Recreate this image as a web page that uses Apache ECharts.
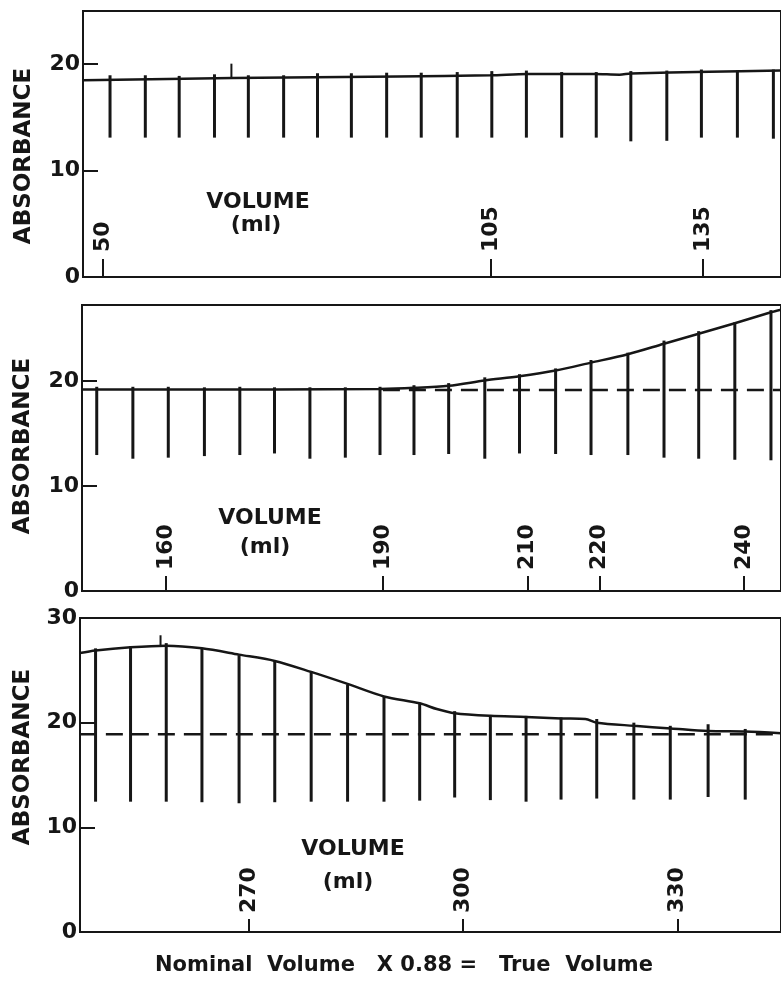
<!DOCTYPE html>
<html>
<head>
<meta charset="utf-8">
<title>Absorbance of eluate vs volume</title>
<script src="https://cdn.jsdelivr.net/npm/echarts@6.0.0/dist/echarts.min.js"></script>
<style>
  html, body { margin: 0; padding: 0; background: #fff; }
  #chart { width: 781px; height: 983px; }
</style>
</head>
<body>
<div id="chart"></div>
<script>
//------------------- Data START -------------------//
// volumes are nominal ml, absorbance in chart units
var yTicks = [0, 10, 20]
var yTicks3 = [0, 10, 20, 30]

// panel 1 (47 - 146 ml)
var xTicks1 = [50, 105, 135]
var frac1Vol = [51.0, 56.0, 60.8, 65.8, 70.6, 75.6, 80.4, 85.2, 90.2, 95.1, 100.2, 105.1, 110.0, 115.0, 119.9, 124.8, 129.9, 134.8, 139.9, 145.0]
var frac1Top = [18.96, 18.96, 18.9, 19.05, 18.96, 18.96, 19.15, 19.15, 19.2, 19.2, 19.26, 19.35, 19.4, 19.26, 19.26, 19.35, 19.4, 19.5, 19.4, 19.5]
var frac1Bot = [13.1, 13.1, 13.1, 13.1, 13.1, 13.1, 13.1, 13.1, 13.1, 13.1, 13.1, 13.1, 13.1, 13.1, 13.1, 12.75, 12.8, 13.1, 13.1, 13.0]
var curve1 = [[47.2, 18.5], [68.3, 18.7], [91.8, 18.85], [104.9, 18.95], [110.1, 19.08], [119.6, 19.08], [123.2, 19.02], [124.8, 19.12], [135.9, 19.3], [146.1, 19.4]]
var marks1 = [[68.2, 20.05, 18.75]]

// panel 2 (148 - 245 ml)
var xTicks2 = [160, 190, 210, 220, 240]
var frac2Vol = [150.4, 155.4, 160.3, 165.3, 170.2, 175.0, 179.9, 184.8, 189.6, 194.3, 199.1, 204.1, 208.9, 213.9, 218.8, 223.9, 228.9, 233.7, 238.7, 243.7]
var frac2Top = [19.45, 19.45, 19.45, 19.4, 19.45, 19.4, 19.4, 19.4, 19.45, 19.6, 19.8, 20.35, 20.65, 21.2, 22.0, 22.7, 23.85, 24.75, 25.6, 26.75]
var frac2Bot = [12.95, 12.6, 12.7, 12.85, 12.95, 13.1, 12.6, 12.7, 12.95, 12.95, 13.05, 12.6, 13.1, 13.05, 12.95, 12.95, 12.7, 12.6, 12.5, 12.45]
var curve2 = [[148.4, 19.2], [175.0, 19.2], [189.6, 19.25], [194.3, 19.35], [199.1, 19.55], [204.1, 20.05], [208.9, 20.45], [213.9, 21.0], [218.8, 21.75], [223.9, 22.55], [228.9, 23.55], [233.7, 24.5], [238.7, 25.5], [243.7, 26.55], [245.1, 26.8]]
var base2 = [[190.0, 19.15], [245.1, 19.15]]

// panel 3 (246 - 345 ml)
var xTicks3 = [270, 300, 330]
var frac3Vol = [248.5, 253.4, 258.4, 263.4, 268.6, 273.6, 278.7, 283.8, 288.9, 293.9, 298.8, 303.8, 308.8, 313.7, 318.7, 323.9, 329.0, 334.3, 339.5]
var frac3Top = [27.1, 27.3, 27.6, 27.15, 26.45, 25.9, 24.9, 23.65, 22.5, 21.9, 21.1, 20.7, 20.65, 20.5, 20.35, 20.0, 19.7, 19.85, 19.4]
var frac3Bot = [12.45, 12.45, 12.45, 12.4, 12.3, 12.4, 12.45, 12.45, 12.45, 12.55, 12.85, 12.6, 12.45, 12.65, 12.75, 12.65, 12.65, 12.9, 12.65]
var curve3 = [[246.3, 26.65], [248.5, 26.9], [253.4, 27.2], [258.4, 27.35], [263.4, 27.1], [268.6, 26.5], [273.6, 25.9], [278.7, 24.85], [283.8, 23.7], [288.9, 22.5], [293.9, 21.85], [296.3, 21.3], [298.8, 20.9], [303.8, 20.65], [308.8, 20.55], [313.7, 20.4], [317.1, 20.35], [318.7, 20.0], [323.9, 19.7], [329.1, 19.45], [334.3, 19.2], [339.5, 19.15], [344.5, 19.0]]
var base3 = [[246.3, 18.9], [344.5, 18.9]]
var marks3 = [[257.6, 28.35, 27.4]]
//------------------- Data END -------------------//

var ink = '#161616'
var fontFamily = '"DejaVu Sans", sans-serif'

// plot boxes, one per panel; right edge pushed off the page like the cropped original
var panels = [
  { grid: { left: 83, top: 11, right: -4, height: 266 }, xMin: 47.17, xMax: 146.08, yMax: 25, xTicks: xTicks1, yTicks: yTicks, tickLen: 18, labelGap: 25,
    vol: frac1Vol, top: frac1Top, bot: frac1Bot, curve: curve1, base: null, marks: marks1 },
  { grid: { left: 82, top: 305, right: -4, height: 286 }, xMin: 148.36, xMax: 245.09, yMax: 27.24, xTicks: xTicks2, yTicks: yTicks, tickLen: 15, labelGap: 21,
    vol: frac2Vol, top: frac2Top, bot: frac2Bot, curve: curve2, base: base2, marks: [] },
  { grid: { left: 80, top: 618, right: -4, height: 314 }, xMin: 246.32, xMax: 344.51, yMax: 30, xTicks: xTicks3, yTicks: yTicks3, tickLen: 13, labelGap: 19,
    vol: frac3Vol, top: frac3Top, bot: frac3Bot, curve: curve3, base: base3, marks: marks3 },
]

function zip3(a, b, c) {
  return a.map(function(v, i) { return [v, b[i], c[i]] })
}

function renderStick(width) {
  return function(params, api) {
    var p1 = api.coord([api.value(0), api.value(1)])
    var p2 = api.coord([api.value(0), api.value(2)])
    return {
      type: 'line',
      shape: { x1: p1[0], y1: p1[1], x2: p2[0], y2: p2[1] },
      style: { stroke: ink, lineWidth: width },
    }
  }
}

function textEl(text, x, y, size, rotated) {
  return {
    type: 'text',
    x: x,
    y: y,
    rotation: rotated ? Math.PI / 2 : 0,
    style: {
      text: text,
      fill: ink,
      font: 'bold ' + size + 'px ' + fontFamily,
      textAlign: 'center',
      textVerticalAlign: 'middle',
      align: 'center',
      verticalAlign: 'middle',
    },
  }
}

var grid = []
var xAxis = []
var yAxis = []
var series = []

panels.forEach(function(p, i) {
  grid.push(Object.assign({ show: true, borderColor: ink, borderWidth: 2, backgroundColor: 'transparent' }, p.grid))

  xAxis.push({
    type: 'value',
    gridIndex: i,
    min: p.xMin,
    max: p.xMax,
    axisLine: { lineStyle: { color: ink, width: 2 } },
    axisTick: { inside: true, length: p.tickLen, customValues: p.xTicks, lineStyle: { color: ink, width: 2 } },
    axisLabel: {
      inside: true,
      rotate: 90,
      margin: p.labelGap,
      customValues: p.xTicks,
      color: ink,
      fontFamily: fontFamily,
      fontWeight: 'bold',
      fontSize: 22,
    },
    splitLine: { show: false },
  })

  yAxis.push({
    type: 'value',
    gridIndex: i,
    min: 0,
    max: p.yMax,
    axisLine: { show: true, lineStyle: { color: ink, width: 2 } },
    axisTick: { inside: true, length: 15, customValues: p.yTicks, lineStyle: { color: ink, width: 2 } },
    axisLabel: {
      margin: 3,
      customValues: p.yTicks,
      color: ink,
      fontFamily: fontFamily,
      fontWeight: 'bold',
      fontSize: 22,
    },
    splitLine: { show: false },
  })

  series.push({
    type: 'custom',
    xAxisIndex: i,
    yAxisIndex: i,
    renderItem: renderStick(3),
    encode: { x: 0, y: [1, 2] },
    data: zip3(p.vol, p.top, p.bot),
    silent: true,
  })

  series.push({
    type: 'line',
    xAxisIndex: i,
    yAxisIndex: i,
    data: p.curve,
    smooth: 0.3,
    showSymbol: false,
    lineStyle: { color: ink, width: 2.5 },
    silent: true,
  })

  if (p.base) {
    series.push({
      type: 'line',
      xAxisIndex: i,
      yAxisIndex: i,
      data: p.base,
      showSymbol: false,
      lineStyle: { color: ink, width: 2.5, type: [17, 9] },
      silent: true,
    })
  }

  if (p.marks.length) {
    series.push({
      type: 'custom',
      xAxisIndex: i,
      yAxisIndex: i,
      renderItem: renderStick(2),
      encode: { x: 0, y: [1, 2] },
      data: p.marks,
      silent: true,
    })
  }
})

var graphic = [
  textEl('ABSORBANCE', 24, 156, 23, true),
  textEl('ABSORBANCE', 23, 446, 23, true),
  textEl('ABSORBANCE', 23, 757, 23, true),
  textEl('VOLUME', 258, 202, 22, false),
  textEl('(ml)', 256, 225, 22, false),
  textEl('VOLUME', 270, 518, 22, false),
  textEl('(ml)', 265, 547, 22, false),
  textEl('VOLUME', 353, 849, 22, false),
  textEl('(ml)', 348, 882, 22, false),
  textEl('Nominal  Volume   X 0.88 =   True  Volume', 404, 966, 21, false),
]

var chart = echarts.init(document.getElementById('chart'), null, { renderer: 'canvas' })
chart.setOption({
  backgroundColor: '#ffffff',
  animation: false,
  grid: grid,
  xAxis: xAxis,
  yAxis: yAxis,
  series: series,
  graphic: graphic,
})
</script>
</body>
</html>
